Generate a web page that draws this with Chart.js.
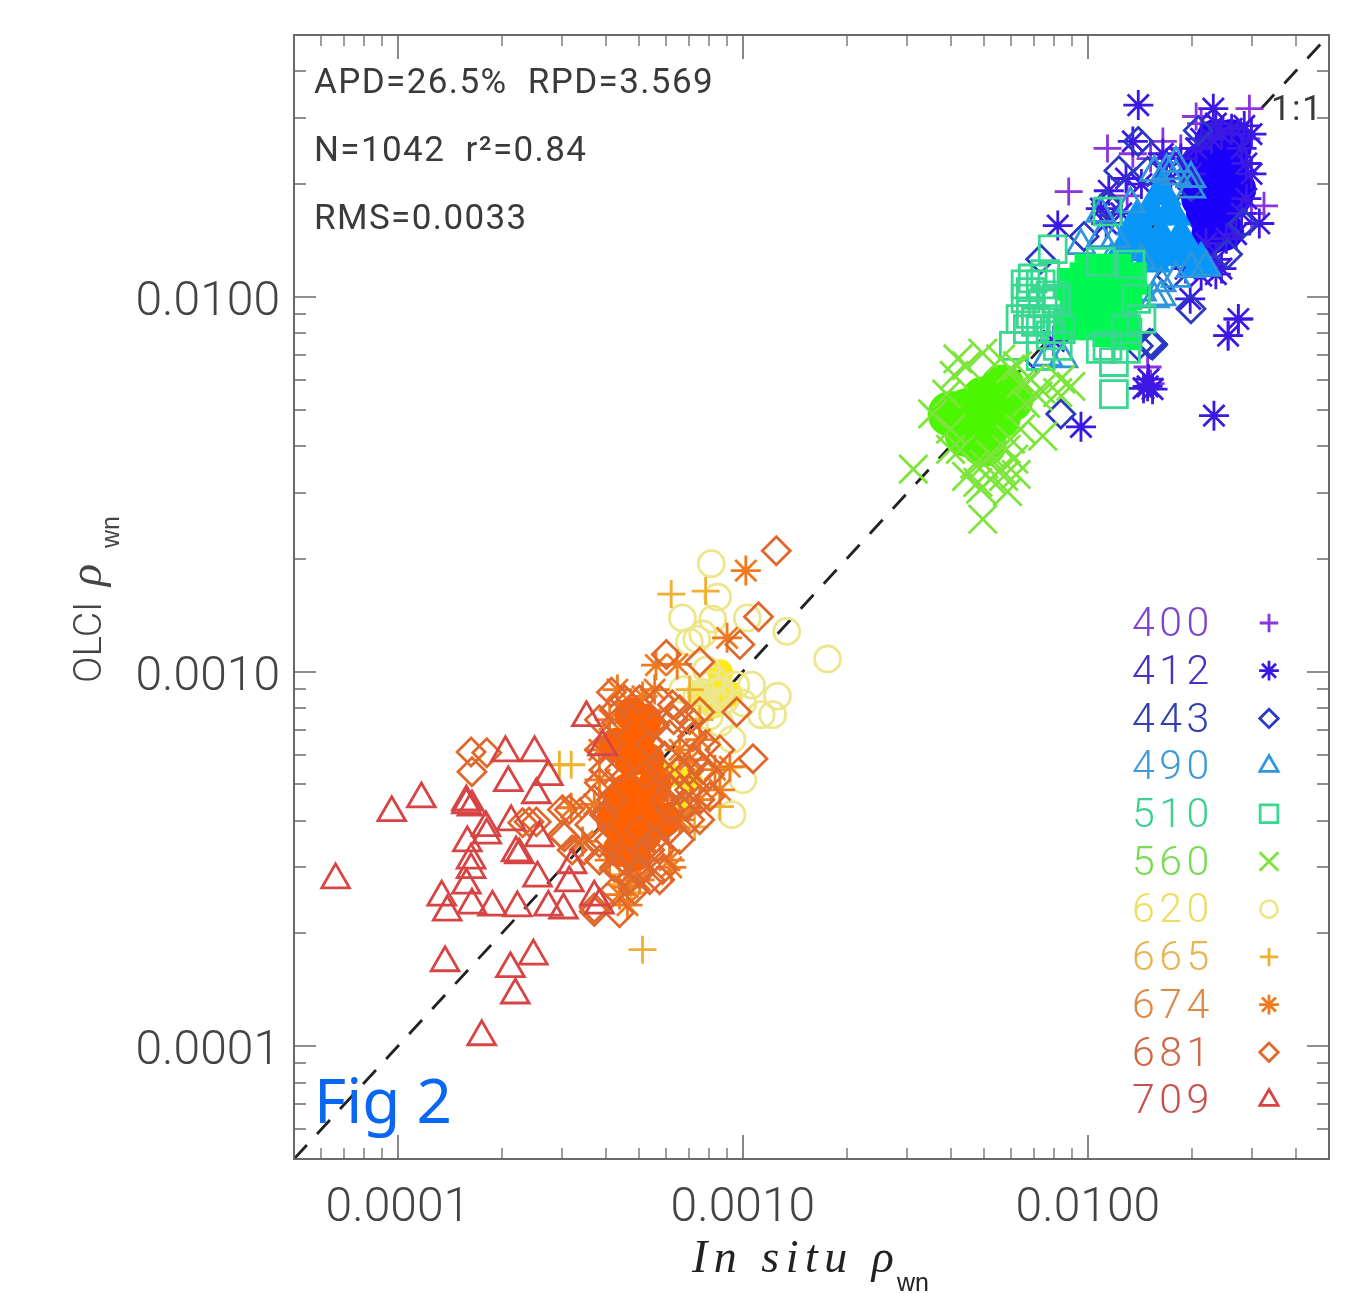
<!DOCTYPE html>
<html>
<head>
<meta charset="utf-8">
<title>Fig 2</title>
<script src="https://cdn.jsdelivr.net/npm/chart.js@4"></script>
<style>
  html, body { margin: 0; padding: 0; background: #fff; }
  canvas { display: block; filter: blur(0.5px); }
</style>
</head>
<body>
<canvas id="scatterChart" width="1347" height="1293"></canvas>
<script>
// tick values
const majorTicks = [0.0001, 0.001, 0.01];
const minorTicks = [6e-5, 7e-5, 8e-5, 9e-5, 2e-4, 3e-4, 4e-4, 5e-4, 6e-4, 7e-4, 8e-4, 9e-4,
  2e-3, 3e-3, 4e-3, 5e-3, 6e-3, 7e-3, 8e-3, 9e-3, 2e-2, 3e-2, 4e-2];
const wavelengths = ["400", "412", "443", "490", "510", "560", "620", "665", "674", "681", "709"];
const statLines = ["APD=26.5%  RPD=3.569", "N=1042  r\u00b2=0.84", "RMS=0.0033"];

// values, x in units of 1e-3
const x400 = [11.4,16.5,8.8,29.4,20.6,32.4,13.5,13.0,14.9,28.4,27.3,25.5,28.8,27.9,29.8,21.3,18.6,15.2,15.2];
const y400 = [24.9,26.0,19.1,31.8,30.3,17.5,24.1,18.6,6.5,21.3,8.73,7.88,26.4,18.9,16.7,29.0,24.9,5.87,23.4];
const x412 = [14.0,23.1,28.4,13.5,16.5,12.9,11.5,8.18,31.4,27.3,25.5,19.8,14.9,15.4,14.5,15.0,23.2,9.55,7.96,24.4,21.3,27.9,28.8,29.8,26.9,23.5,18.6,21.3,24.4,
  20.6,22.8,26.1,28.8,27.9,25.2,22.0,19.9,29.8,23.5,17.4,19.9,23.5,21.3,19.2,16.9,14.3,10.9,11.3,12.5];
const y412 = [32.5,31.8,28.6,26.0,24.1,20.7,19.2,15.5,15.7,8.73,7.88,9.88,5.77,5.67,5.7,6.03,4.82,4.5,7.63,11.9,11.4,24.9,18.3,21.3,14.7,12.6,23.4,26.4,27.2,
  24.9,26.4,28.1,22.7,16.7,14.3,13.9,21.3,27.2,29.0,20.7,13.0,11.5,12.2,11.9,22.7,20.0,17.2,15.7,16.7];
const x443 = [14.0,12.3,11.4,9.75,7.3,20.9,19.9,25.4,28.2,15.2,15.4,15.1,15.4,8.35,6.52,14.0,17.4,19.9,14.9,11.3];
const y443 = [26.0,21.7,17.5,14.5,12.6,27.8,9.29,13.0,15.7,7.49,7.49,7.52,7.44,4.87,6.3,7.4,11.4,19.7,21.6,17.7];
const x490 = [16.3,15.6,8.47,7.65,15.6,19.9,9.55,14.3,10.9,22.0,19.9,18.0,13.3,12.0,14.3,18.0,10.9,18.0,16.9,19.9,13.3,16.3,11.7];
const y490 = [10.0,9.88,6.83,6.9,21.5,19.4,13.7,10.3,16.7,12.0,11.9,21.0,17.7,14.3,12.5,11.2,14.3,22.7,21.7,20.7,11.1,10.9,12.6];
const x510 = [7.91,6.1,11.9,11.9,7.3,8.18,6.92,6.83,7.07,7.65,11.4,14.3,6.38,6.83,11.4,7.52,6.7,8.1,12.9,7.3,7.8,6.6,7.4,7.3,7.8,6.6,8.35,12.9,10.9,13.8,10.9,13.3];
const y510 = [13.4,7.4,6.7,5.5,6.95,7.4,11.2,10.3,8.58,8.73,7.4,8.73,8.73,9.0,16.9,11.5,8.2,9.88,8.2,10.8,10.1,9.9,9.6,8.2,7.9,10.8,8.2,7.26,7.26,9.88,12.4,12.2];
const x560 = [3.12,4.96,8.93,7.4,3.55,4.2,4.96,5.85,5.7,4.89,6.25,8.18,7.17,8.35,4.8,5.23,6.1,4.45,4.1,4.45,4.0,6.38,5.97,5.59,5.59,5.0,6.2,3.9,6.83,6.38,4.0,5.23,5.97,5.8,4.7,4.27,6.6,7.3];
const y560 = [3.47,2.55,5.77,4.25,4.87,6.83,7.08,3.02,3.32,3.07,6.55,5.55,5.43,6.03,3.2,3.26,3.69,3.32,6.17,6.55,3.92,5.85,6.42,6.83,3.47,3.58,3.36,5.5,6.03,4.44,4.44,3.8,4.17,3.92,3.58,3.92,5.2,5.67];

// values, x in units of 1e-4
const x620 = [8.1,8.45,6.68,8.18,10.3,13.4,17.6,7.35,7.65,10.6,12.6,11.3,12.2,9.3,10.0,9.3,8.02,8.5,7.65,8.2,7.35,8.58,6.7,7.0,8.0,7.85,9.55,10.0,8.58,8.9,7.75,8.25];
const y620 = [19.4,15.8,13.9,13.8,13.9,12.8,10.8,12.2,12.6,9.2,8.6,7.67,7.67,4.15,5.14,6.58,9.2,8.8,8.8,8.25,8.55,7.3,8.95,12.0,7.6,10.1,9.2,8.25,8.95,8.4,8.4,9.5];
const x665 = [6.2,7.8,2.94,3.18,7.25,8.58,5.12,4.39,4.75,5.37,7.01,7.5,4.54];
const y665 = [16.1,16.4,5.64,5.64,3.85,4.36,1.81,2.7,2.57,5.14,8.95,7.44,2.87];
const x674 = [10.2,9.0,5.6,6.45,4.33,9.17,3.18,3.71,3.43,6.2,4.63,3.84,5.12,5.37,4.69,4.54,5.02,5.74,6.56,7.5,8.3,4.11,5.02,4.11,3.84,5.02,4.39,4.63,6.56,7.5,6.13,5.55,7.01,8.58];
const y674 = [18.6,12.3,10.4,10.45,8.95,5.57,4.33,4.42,3.52,3.0,2.66,6.18,8.58,7.44,6.58,4.55,4.02,4.55,6.18,6.58,5.47,3.14,3.14,7.44,5.14,2.78,2.54,2.38,4.02,4.55,3.14,8.95,5.82,4.83];
const x681 = [12.5,11.1,9.8,6.0,7.5,9.6,7.5,10.7,4.16,3.84,6.25,8.58,7.65,8.02,3.0,3.0,3.2,3.84,4.25,5.02,5.85,4.39,3.71,4.3,5.12,6.56,7.15,4.16,6.87,1.63,1.81,1.64,2.4,2.3,2.52,3.04,3.14,3.71,4.54,5.02,5.55,5.37,6.13,7.01,6.56,5.93,7.5,7.01,6.13,5.37,5.02,4.54,4.11,3.97,4.39,4.11,5.2,5.74,4.69,4.25,
  3.84,4.25,5.74,7.01,7.8,6.56,6.13,7.01,8.0,7.5,6.56,5.74,5.02,4.39,3.84,3.6,3.71,3.97,3.84,5.93,6.3,7.25,5.55,6.8,6.13,5.37,4.85,5.74,3.47];
const y681 = [21.0,14.0,11.8,11.1,10.6,7.8,7.8,5.85,8.8,5.05,8.15,6.18,5.47,4.63,4.28,3.67,3.34,3.49,3.0,2.9,2.96,2.27,2.29,7.3,3.3,7.91,6.7,4.55,4.36,6.1,6.07,5.4,3.97,3.95,3.97,3.62,4.28,2.34,8.41,8.41,7.2,6.38,6.78,5.47,4.83,4.55,4.55,4.02,3.78,3.34,3.78,3.14,3.56,4.15,5.47,6.38,5.3,5.47,2.78,2.61,
  7.44,7.91,8.41,7.44,6.38,5.47,4.83,4.83,5.3,4.02,3.56,3.34,2.96,2.96,3.14,3.9,4.55,5.47,6.18,5.95,7.44,5.82,3.56,4.42,4.28,2.78,2.61,2.78,3.34];
const x709 = [0.66,0.96,1.17,1.58,1.58,1.64,2.05,2.49,2.09,2.73,2.52,2.13,1.8,1.81,1.59,2.57,2.25,2.2,1.63,1.63,1.58,1.34,1.39,1.64,1.88,2.22,2.73,3.02,2.54,3.2,3.14,3.71,3.84,3.92,1.37,2.12,2.47,2.19,1.75,3.52];
const y709 = [2.78,4.2,4.57,4.49,4.41,4.35,6.07,6.07,5.05,5.24,4.69,3.97,3.83,3.66,3.49,3.6,3.24,3.28,2.96,3.14,2.69,2.5,2.28,2.38,2.35,2.34,2.35,2.31,2.81,3.05,2.73,2.5,2.38,6.3,1.67,1.61,1.74,1.37,1.06,7.53];

// centres of the saturated clumps, where the symbols pile up into solid colour
const coreX412 = [24.8,22.8,25.8,23.1,25.0,23.5,21.0,22.0,26.1,26.0,21.3,23.5,22.8,26.9,21.3,24.8];
const coreY412 = [24.9,22.0,21.3,18.9,17.7,15.9,20.7,16.7,24.9,26.4,22.7,26.4,14.7,19.4,18.3,15.0];
const coreX490 = [16.3,15.2,17.4,14.3,16.3,18.6,13.8,16.8,19.2,21.3,15.2,12.9,13.8];
const coreY490 = [18.9,16.7,16.7,14.7,14.3,14.3,13.4,13.0,13.0,12.2,12.5,13.6,15.7];
const coreX510 = [9.87,11.7,12.9,9.23,10.9,12.5,10.5,11.5,9.05,8.85,13.3,12.0,10.2,12.9];
const coreY510 = [11.2,11.2,10.2,9.58,9.58,9.17,8.47,8.12,10.8,8.47,11.2,11.8,11.8,7.96];
const coreX560 = [5.0,4.45,5.66,4.96,4.48,5.49,4.99,5.97,4.0];
const coreY560 = [5.33,4.95,5.73,4.58,4.3,4.78,4.05,5.33,4.87];
const coreX620 = [8.3,7.5,9.2,8.2,8.6,6.13,7.01,6.56];
const coreY620 = [8.95,8.7,8.7,8.1,9.95,5.3,5.14,4.28];
const coreX681 = [4.75,5.02,4.75,4.63,5.02,4.54,5.37,4.39,5.93,5.2,5.3,4.3,5.55,4.39,4.85,4.2,5.2];
const coreY681 = [7.68,6.8,5.82,4.83,4.55,3.9,4.15,3.34,4.02,3.67,5.82,6.38,4.98,4.55,3.24,4.02,7.4];

const toPts = (xs, ys, unit) => xs.map((v, i) => ({ x: v * unit, y: ys[i] * unit }));

const series = [
  { name: "400", xs: x400, ys: y400, unit: 1e-3, style: "cross",    r: 14, color: "#8a35e0", text: "#7d45d2" },
  { name: "412", xs: x412, ys: y412, unit: 1e-3, style: "star",     r: 15, color: "#3c18e4", text: "#4a30c0", core: [coreX412, coreY412], coreColor: "#1a00fa", coreR: 20 },
  { name: "443", xs: x443, ys: y443, unit: 1e-3, style: "rectRot",  r: 14, color: "#2a38c4", text: "#3040b0" },
  { name: "490", xs: x490, ys: y490, unit: 1e-3, style: "triangle", r: 16, color: "#2e96dc", text: "#3f9ad8", core: [coreX490, coreY490], coreColor: "#0896f8", coreR: 24, coreStyle: "triangle" },
  { name: "510", xs: x510, ys: y510, unit: 1e-3, style: "rect",     r: 19, color: "#38d890", text: "#3bd08e", core: [coreX510, coreY510], coreColor: "#00f850", coreR: 23, coreStyle: "rect" },
  { name: "560", xs: x560, ys: y560, unit: 1e-3, style: "crossRot", r: 20, color: "#7ce53a", text: "#78dc50", core: [coreX560, coreY560], coreColor: "#4cf500", coreR: 23 },
  { name: "620", xs: x620, ys: y620, unit: 1e-4, style: "circle",   r: 13, color: "#ece68c", text: "#eedd60", core: [coreX620, coreY620], coreColor: "#ffe81c", coreR: 13 },
  { name: "665", xs: x665, ys: y665, unit: 1e-4, style: "cross",    r: 14, color: "#f0b030", text: "#e6b450" },
  { name: "674", xs: x674, ys: y674, unit: 1e-4, style: "star",     r: 15, color: "#f07a20", text: "#dc8a48" },
  { name: "681", xs: x681, ys: y681, unit: 1e-4, style: "rectRot",  r: 14, color: "#e0682c", text: "#cf6a48", core: [coreX681, coreY681], coreColor: "#ff6000", coreR: 17 },
  { name: "709", xs: x709, ys: y709, unit: 1e-4, style: "triangle", r: 16, color: "#d84444", text: "#c85050" }
];

const datasets = [{
  label: "1:1",
  data: [{ x: 5e-5, y: 5e-5 }, { x: 0.05, y: 0.05 }],
  showLine: true,
  borderColor: "#222",
  borderWidth: 2.8,
  borderDash: [19, 15],
  pointRadius: 0,
  order: 100
}];
// later series sit on top of earlier ones
series.forEach((s, i) => {
  if (s.core) {
    datasets.push({
      label: s.name + " core",
      data: toPts(s.core[0], s.core[1], s.unit),
      pointStyle: s.coreStyle || "circle",
      pointRadius: s.coreR,
      backgroundColor: s.coreColor,
      borderColor: s.coreColor,
      borderWidth: 0,
      order: 50 - i * 2
    });
  }
  datasets.push({
    label: s.name,
    data: toPts(s.xs, s.ys, s.unit),
    pointStyle: s.style,
    pointRadius: s.r,
    backgroundColor: "rgba(0,0,0,0)",
    borderColor: s.color,
    borderWidth: 2.8,
    order: 49 - i * 2
  });
});

// frame, inward ticks on all four sides, stats text, legend and labels
const decorPlugin = {
  id: "decor",
  afterDraw(chart) {
    const ctx = chart.ctx, a = chart.chartArea;
    const sx = chart.scales.x, sy = chart.scales.y;
    ctx.save();
    ctx.strokeStyle = "#6a6a6a";
    ctx.lineWidth = 2;
    ctx.strokeRect(a.left, a.top, a.right - a.left, a.bottom - a.top);

    const drawTicks = (values, xLen, yLen) => {
      ctx.beginPath();
      values.forEach(v => {
        const px = Math.round(sx.getPixelForValue(v));
        ctx.moveTo(px, a.bottom); ctx.lineTo(px, a.bottom - xLen);
        ctx.moveTo(px, a.top); ctx.lineTo(px, a.top + xLen);
        const py = Math.round(sy.getPixelForValue(v));
        ctx.moveTo(a.left, py); ctx.lineTo(a.left + yLen, py);
        ctx.moveTo(a.right, py); ctx.lineTo(a.right - yLen, py);
      });
      ctx.stroke();
    };
    ctx.lineWidth = 1.6;
    drawTicks(majorTicks, 24, 22);
    ctx.lineWidth = 1.3;
    drawTicks(minorTicks, 11, 12);

    // stats block
    ctx.fillStyle = "#3a3a3a";
    ctx.textAlign = "left";
    ctx.textBaseline = "alphabetic";
    ctx.font = '400 35px Roboto';
    ctx.letterSpacing = "1.4px";
    statLines.forEach((t, i) => ctx.fillText(t, 314, 93 + i * 68));
    ctx.fillText("1:1", 1271, 120);

    // legend
    ctx.font = '300 41px Roboto';
    ctx.letterSpacing = "4.5px";
    ctx.textBaseline = "middle";
    series.forEach((s, i) => {
      const y = 623 + i * 47.7;
      ctx.fillStyle = s.text;
      ctx.fillText(wavelengths[i], 1132, y + 3);
      ctx.strokeStyle = s.color;
      ctx.fillStyle = "rgba(0,0,0,0)";
      ctx.lineWidth = 2.8;
      Chart.helpers.drawPoint(ctx, { pointStyle: s.style, radius: s.r * 0.66, rotation: 0, borderWidth: 2.8 }, 1269, y);
    });
    ctx.letterSpacing = "0px";

    // axis titles
    ctx.textBaseline = "alphabetic";
    ctx.fillStyle = "#222";
    ctx.font = 'italic 46px "Liberation Serif"';
    ctx.letterSpacing = "6.5px";
    ctx.fillText("In situ \u03c1", 692, 1272);
    ctx.letterSpacing = "0px";
    ctx.font = '25px "Liberation Sans"';
    ctx.fillText("wn", 897, 1291);

    ctx.save();
    ctx.translate(101, 683);
    ctx.rotate(-Math.PI / 2);
    ctx.fillStyle = "#444";
    ctx.font = '300 39px Roboto';
    ctx.fillText("OLCI", 0, 0);
    ctx.font = 'italic 46px "Liberation Serif"';
    ctx.fillText("\u03c1", 97, 0);
    ctx.font = '25px "Liberation Sans"';
    ctx.fillText("wn", 135, 18);
    ctx.restore();

    // pasted figure tag
    ctx.fillStyle = "#0a66f5";
    ctx.font = '62px "Noto Sans"';
    ctx.fillText("Fig 2", 314, 1123);
    ctx.restore();
  }
};

const tickFont = { family: "Roboto", size: 48, weight: "300" };
const logAxis = {
  type: "logarithmic",
  min: 5e-5,
  max: 0.05,
  afterBuildTicks: s => { s.ticks = majorTicks.map(v => ({ value: v, major: true })); },
  grid: { display: false, drawTicks: false },
  border: { display: false }
};

// fixed axis bands so the plot box lands where it does in the figure
const fitAxis = (s, size) => {
  if (s.isHorizontal()) s.height = size; else s.width = size;
  s.paddingTop = s.paddingBottom = s.paddingLeft = s.paddingRight = 0;
};

new Chart(document.getElementById("scatterChart"), {
  type: "scatter",
  data: { datasets },
  options: {
    responsive: false,
    animation: false,
    events: [],
    layout: { autoPadding: false, padding: { top: 35, right: 18, left: 0, bottom: 0 } },
    plugins: { legend: { display: false }, tooltip: { enabled: false } },
    scales: {
      x: {
        ...logAxis,
        position: "bottom",
        afterFit: s => fitAxis(s, 134),
        ticks: { autoSkip: false, maxRotation: 0, padding: 21, color: "#444", font: tickFont, callback: v => v.toFixed(4) }
      },
      y: {
        ...logAxis,
        position: "left",
        afterFit: s => fitAxis(s, 294),
        ticks: { autoSkip: false, padding: 14, labelOffset: 6, color: "#444", font: tickFont, callback: v => v.toFixed(4) }
      }
    }
  },
  plugins: [decorPlugin]
});
</script>
</body>
</html>
